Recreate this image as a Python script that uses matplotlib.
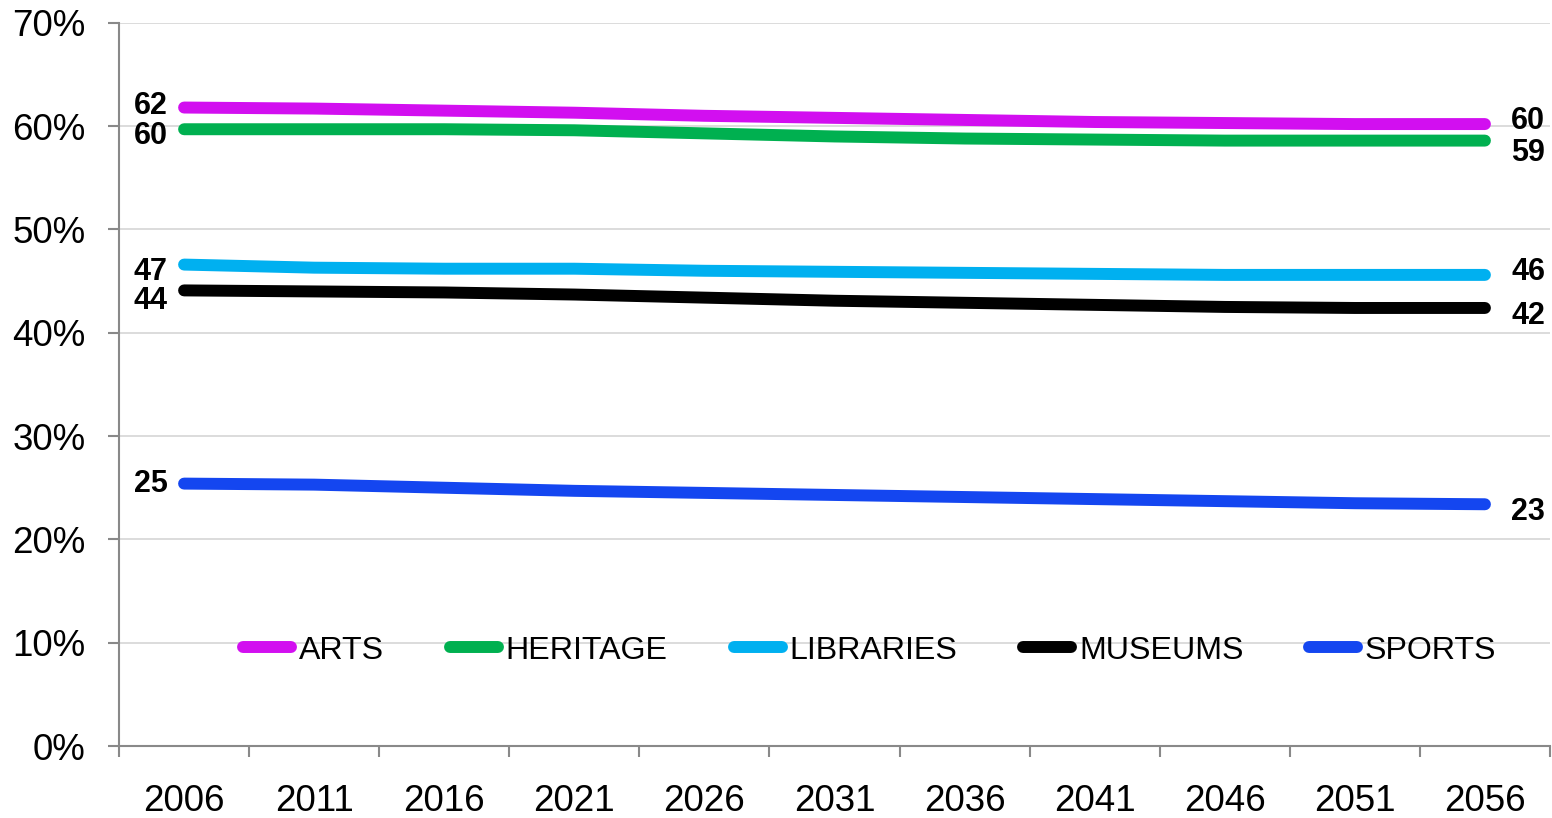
import matplotlib
matplotlib.use('Agg')
import matplotlib.pyplot as plt

plt.rcParams['font.family'] = ['Liberation Sans', 'DejaVu Sans']

YEARS = ['2006', '2011', '2016', '2021', '2026', '2031', '2036', '2041', '2046', '2051', '2056']
SERIES = ['ARTS', 'HERITAGE', 'LIBRARIES', 'MUSEUMS', 'SPORTS']
ARTS = [61.8, 61.7, 61.5, 61.3, 61.0, 60.8, 60.6, 60.4, 60.3, 60.2, 60.2]
HERITAGE = [59.7, 59.7, 59.7, 59.6, 59.3, 59.0, 58.8, 58.7, 58.6, 58.6, 58.6]
LIBRARIES = [46.6, 46.3, 46.2, 46.2, 46.0, 45.9, 45.8, 45.7, 45.6, 45.6, 45.6]
MUSEUMS = [44.1, 44.0, 43.9, 43.7, 43.4, 43.1, 42.9, 42.7, 42.5, 42.4, 42.4]
SPORTS = [25.4, 25.3, 25.0, 24.7, 24.5, 24.3, 24.1, 23.9, 23.7, 23.5, 23.4]

COLORS = ['#D20FF0', '#00B050', '#00B0F0', '#000000', '#1446F0']
# label offsets in points (start dy, end dy)
OFFSETS = [(1, 2), (-5, -9), (-5, 2), (-7.5, -6), (0, -5.5)]

fig = plt.figure(figsize=(15.52, 8.18), dpi=100)
ax = fig.add_axes([0.0767, 0.088, 0.922, 0.8841])

x = list(range(len(YEARS)))
values = [ARTS, HERITAGE, LIBRARIES, MUSEUMS, SPORTS]
for name, vals, col, (d0, d1) in zip(SERIES, values, COLORS, OFFSETS):
    ax.plot(x, vals, color=col, lw=8.6, solid_capstyle='round', label=name, zorder=3)
    ax.annotate('%d' % int(vals[0] + 0.5), (x[0], vals[0]), xytext=(-12, d0),
                textcoords='offset points', ha='right', va='center',
                fontsize=22, fontweight='bold')
    ax.annotate('%d' % int(vals[-1] + 0.5), (x[-1], vals[-1]), xytext=(19, d1),
                textcoords='offset points', ha='left', va='center',
                fontsize=22, fontweight='bold')

ax.set_xlim(-0.5, len(YEARS) - 0.5)
ax.set_ylim(0, 70)
ax.set_yticks(range(0, 71, 10))
ax.set_yticklabels(['%d%%' % v for v in range(0, 71, 10)], fontsize=26.5)
ax.set_xticks(x)
ax.set_xticklabels(YEARS, fontsize=26.5)
ax.set_xticks([i - 0.5 for i in range(len(YEARS) + 1)], minor=True)
ax.tick_params(axis='x', which='major', length=0, pad=27)
ax.tick_params(axis='x', which='minor', length=8, width=1.5, color='#898989', direction='out')
ax.tick_params(axis='y', length=8, width=1.5, color='#898989', pad=16)

ax.grid(axis='y', color='#d9d9d9', lw=1.3)
ax.set_axisbelow(True)
for s in ['top', 'right']:
    ax.spines[s].set_visible(False)
for s in ['left', 'bottom']:
    ax.spines[s].set_color('#898989')
    ax.spines[s].set_linewidth(1.5)

ax.legend(loc='center', bbox_to_anchor=(0.5605, 0.2045), bbox_transform=fig.transFigure,
          ncol=5, frameon=False, fontsize=23.1, handlelength=1.5, handletextpad=0.24,
          columnspacing=2.05, borderpad=0)

fig.savefig('out.png', dpi=100)
